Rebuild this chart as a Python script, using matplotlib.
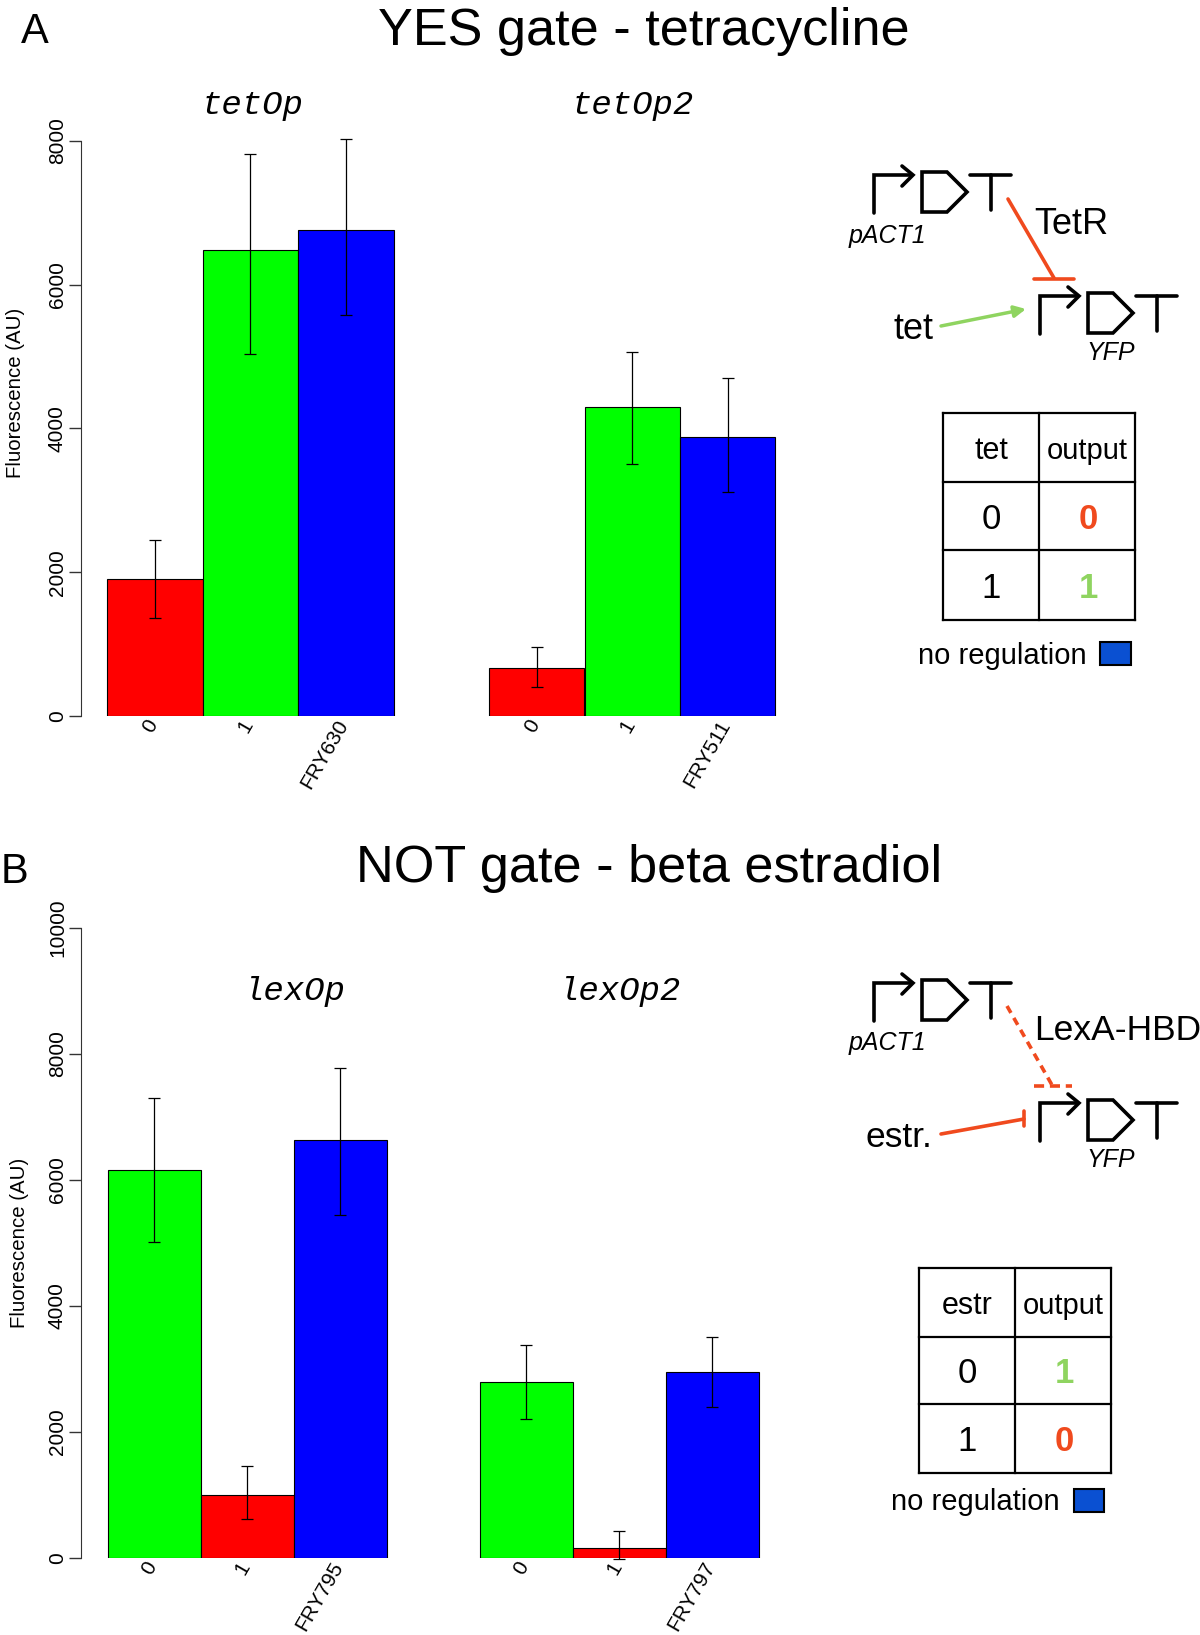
import matplotlib
matplotlib.use("Agg")
import matplotlib.pyplot as plt
from matplotlib.patches import Rectangle, Polygon

W, H = 1200, 1635
SANS = "Liberation Sans"
MONO = "Liberation Mono"
plt.rcParams["font.family"] = SANS

RED, GREEN, BLUE = "#ff0000", "#00ff00", "#0000ff"
ORANGE, LIME, SWATCH = "#f04a1e", "#8fd460", "#0a50d2"

# Panel A
a_labels_1 = ["0", "1", "FRY630"]
a_labels_2 = ["0", "1", "FRY511"]
a_colors = [RED, GREEN, BLUE]
a_vals_1 = [1900, 6490, 6755]
a_low_1 = [1362, 5043, 5580]
a_high_1 = [2449, 7826, 8029]
a_vals_2 = [667, 4305, 3885]
a_low_2 = [406, 3507, 3116]
a_high_2 = [957, 5058, 4696]
a_yticks = [0, 2000, 4000, 6000, 8000]

# Panel B
b_labels_1 = ["0", "1", "FRY795"]
b_labels_2 = ["0", "1", "FRY797"]
b_colors = [GREEN, RED, BLUE]
b_vals_1 = [6160, 995, 6640]
b_low_1 = [5017, 613, 5447]
b_high_1 = [7301, 1457, 7781]
b_vals_2 = [2800, 166, 2950]
b_low_2 = [2202, -17, 2401]
b_high_2 = [3377, 430, 3510]
b_yticks = [0, 2000, 4000, 6000, 8000, 10000]

fig = plt.figure(figsize=(W / 100, H / 100), dpi=100, facecolor="white")


def panel(first_bar_px, unit_px, y0_px, ytop_px, ymax, colors, groups, yticks):
    spine_px, right_px = 81, 800
    ax = fig.add_axes([spine_px / W, 1 - y0_px / H, (right_px - spine_px) / W,
                       (y0_px - ytop_px + 10) / H])
    ax.patch.set_alpha(0)
    ax.set_xlim((spine_px - first_bar_px) / unit_px, (right_px - first_bar_px) / unit_px)
    ax.set_ylim(0, ymax * (y0_px - ytop_px + 10) / (y0_px - ytop_px))
    ticks, labels = [], []
    for start, (vals, low, high, labs) in groups:
        for i, (v, lo, hi, c, lab) in enumerate(zip(vals, low, high, colors, labs)):
            x = start + i
            ax.bar(x, v, width=1, align="edge", color=c, edgecolor="black", linewidth=0.8)
            ax.errorbar(x + 0.5, v, yerr=[[v - lo], [hi - v]], color="black", elinewidth=0.9,
                        capsize=4, capthick=0.9, clip_on=False)
            ticks.append(x + 0.48)
            labels.append(lab)
    ax.set_xticks(ticks)
    ax.set_xticklabels(labels, rotation=60, ha="right", va="center",
                       rotation_mode="anchor", fontsize=15)
    ax.tick_params(axis="x", length=0, pad=4)
    ax.set_yticks(yticks)
    ax.set_yticklabels([str(t) for t in yticks], rotation=90, va="center", ha="center",
                       fontsize=15)
    ax.tick_params(axis="y", length=9, width=1, color="#333333", pad=8)
    for s in ("top", "right", "bottom"):
        ax.spines[s].set_visible(False)
    ax.spines["left"].set_bounds(0, ymax)
    ax.spines["left"].set_color("#333333")
    return ax


panel(107, 95.5, 716, 141, 8000, a_colors,
      [(0, (a_vals_1, a_low_1, a_high_1, a_labels_1)),
       (4, (a_vals_2, a_low_2, a_high_2, a_labels_2))], a_yticks)
panel(107.5, 93, 1558, 928, 10000, b_colors,
      [(0, (b_vals_1, b_low_1, b_high_1, b_labels_1)),
       (4, (b_vals_2, b_low_2, b_high_2, b_labels_2))], b_yticks)

ov = fig.add_axes([0, 0, 1, 1])
ov.set_xlim(0, W)
ov.set_ylim(H, 0)
ov.axis("off")
ov.patch.set_alpha(0)


def T(x, y, s, size, **kw):
    kw.setdefault("ha", "center")
    kw.setdefault("va", "center")
    ov.text(x, y, s, fontsize=size, **kw)


def L(xs, ys, color="black", lw=2.6, **kw):
    kw.setdefault("solid_capstyle", "round")
    kw.setdefault("solid_joinstyle", "miter")
    ov.plot(xs, ys, color=color, lw=lw, **kw)


# Headings
T(35, 32, "A", 30)
T(15, 872, "B", 30)
T(644, 31, "YES gate - tetracycline", 37.6)
T(649, 868, "NOT gate - beta estradiol", 37.6)
T(252, 105, "tetOp", 24.5, family=MONO, style="italic")
T(633, 105, "tetOp2", 24.5, family=MONO, style="italic")
T(295, 991, "lexOp", 24.5, family=MONO, style="italic")
T(620, 991, "lexOp2", 24.5, family=MONO, style="italic")
T(16, 393, "Fluorescence (AU)", 14.7, rotation=90)
T(20, 1243, "Fluorescence (AU)", 14.7, rotation=90)


def unit(x, y):
    """Promoter, gene and terminator glyphs; (x, y) is the foot of the promoter."""
    L([x, x, x + 37], [y, y - 38, y - 38])
    L([x + 28, x + 39, x + 28], [y - 47, y - 38, y - 27])
    ov.add_patch(Polygon([(x + 48, y - 41), (x + 73, y - 41), (x + 93, y - 21),
                          (x + 73, y - 1), (x + 48, y - 1)],
                         closed=True, fill=False, ec="black", lw=2.6))
    L([x + 96, x + 137], [y - 38, y - 38])
    L([x + 117, x + 117], [y - 38, y - 3])


def truth(x0, x1, x2, ys, head, rows):
    for yy in ys:
        L([x0, x2], [yy, yy], lw=1.6, solid_capstyle="projecting")
    for xx in (x0, x1, x2):
        L([xx, xx], [ys[0], ys[-1]], lw=1.6, solid_capstyle="projecting")
    c0, c1 = (x0 + x1) / 2, (x1 + x2) / 2
    T(c0, (ys[0] + ys[1]) / 2 + 3, head, 22)
    T(c1, (ys[0] + ys[1]) / 2 + 3, "output", 21)
    for i, (a, b, col) in enumerate(rows):
        ym = (ys[i + 1] + ys[i + 2]) / 2 + 3
        T(c0, ym, a, 25)
        T(c1 + 1, ym, b, 25, color=col, weight="bold")


# Diagram A
unit(874, 213)
T(887, 236, "pACT1", 18, style="italic")
T(1071, 224, "TetR", 26)
L([1008, 1054], [199, 278], color=ORANGE)
L([1034, 1074], [279, 279], color=ORANGE)
unit(1040, 334)
T(1111, 353, "YFP", 18, style="italic")
T(914, 329, "tet", 26)
ov.annotate("", xy=(1026, 309), xytext=(941, 326),
            arrowprops=dict(arrowstyle="-|>", color=LIME, lw=2.5, mutation_scale=17,
                            shrinkA=0, shrinkB=0))
truth(943, 1039, 1135, [413, 482, 550, 620], "tet",
      [("0", "0", ORANGE), ("1", "1", LIME)])
T(1002, 656, "no regulation", 21)
ov.add_patch(Rectangle((1100, 642), 31, 23, fc=SWATCH, ec="black", lw=1.5))

# Diagram B
unit(874, 1021)
T(887, 1043, "pACT1", 18, style="italic")
T(1118, 1030, "LexA-HBD", 25.5)
L([1007, 1052], [1006, 1085], color=ORANGE, ls=(0, (2.2, 1.6)), dash_capstyle="butt")
L([1034, 1072], [1086, 1086], color=ORANGE, ls=(0, (2.8, 1.6)), dash_capstyle="butt")
unit(1040, 1141)
T(1111, 1160, "YFP", 18, style="italic")
ov.add_patch(Rectangle((1070, 1167), 90, 12, fc="white", ec="none", zorder=5))
T(899, 1137, "estr.", 25.5)
L([941, 1024], [1134, 1119], color=ORANGE)
L([1024, 1024], [1111, 1126], color=ORANGE)
truth(919, 1015, 1111, [1268, 1337, 1404, 1473], "estr",
      [("0", "1", LIME), ("1", "0", ORANGE)])
T(975, 1502, "no regulation", 21)
ov.add_patch(Rectangle((1074, 1489), 30, 23, fc=SWATCH, ec="black", lw=1.5))

fig.savefig("out.png", dpi=100, facecolor="white")
